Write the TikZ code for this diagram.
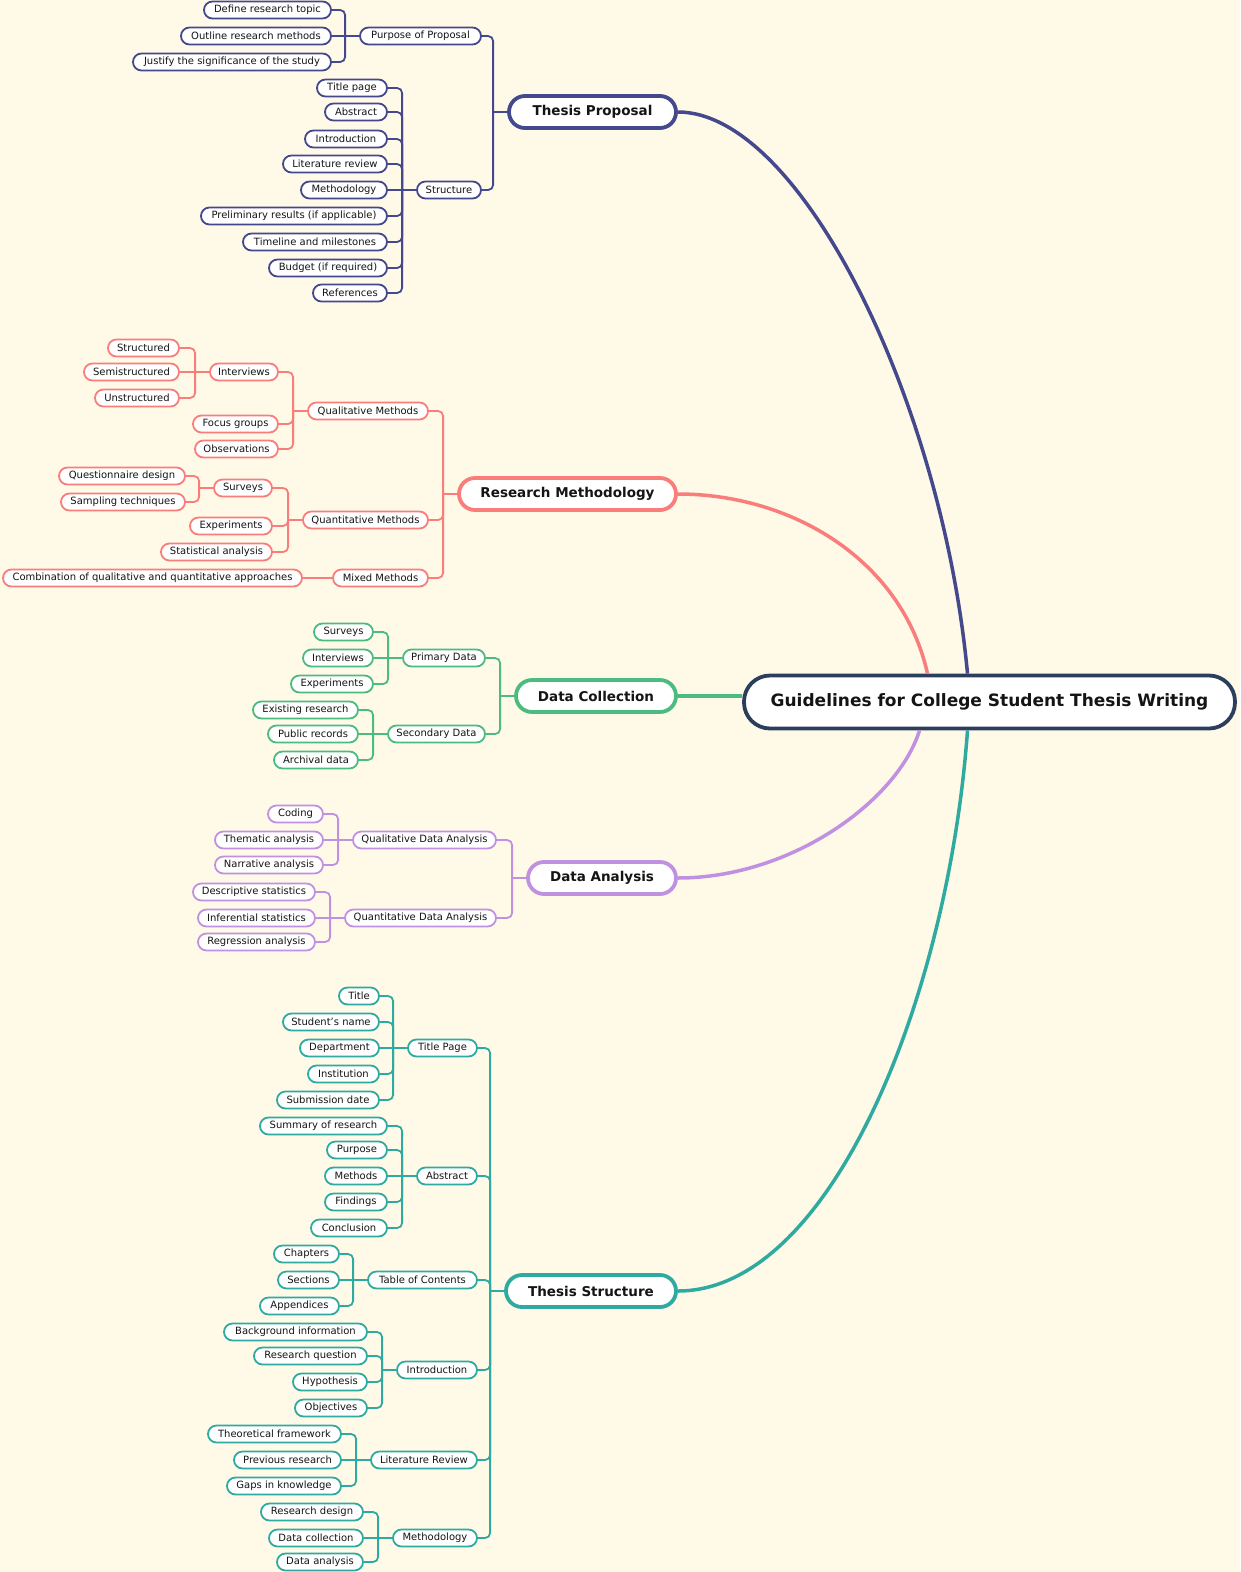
\documentclass[tikz,border=0pt]{standalone}
\usepackage{fontspec}
\setmainfont{DejaVu Sans}
\definecolor{bg}{RGB}{255,249,231}
\definecolor{txt}{RGB}{20,20,20}
\definecolor{tpc}{RGB}{68,72,140}
\definecolor{rmc}{RGB}{248,125,123}
\definecolor{dcc}{RGB}{75,187,127}
\definecolor{dac}{RGB}{192,145,224}
\definecolor{tsc}{RGB}{47,170,160}
\definecolor{rootc}{RGB}{43,63,92}
\tikzset{
  leaf/.style={draw, line width=1.8pt, fill=white, text=txt, rounded corners=8.5pt,
    minimum height=17pt, inner sep=0pt, font=\fontsize{10}{12}\selectfont},
  main/.style={draw, line width=3.8pt, fill=white, text=txt, rounded corners=16pt,
    minimum height=32pt, inner sep=0pt, font=\fontsize{13.5}{16}\selectfont\bfseries},
  rootn/.style={draw=rootc, line width=3.8pt, fill=white, text=txt, rounded corners=26pt,
    minimum height=53pt, inner sep=0pt, font=\fontsize{17}{20}\selectfont\bfseries},
  link/.style={line width=1.8pt, rounded corners=5pt},
  curv/.style={line width=3.5pt},
}
\newcommand\mmnode[6]{%
  \pgfmathsetmacro\mmw{#4-#3-2}%
  \node[#1, minimum width=\mmw pt] (#2) at ({(#3+#4)/2},#5) {#6};}
\newcommand\mmlink[2]{%
  \draw[link] (#1.east) -| ([xshift=-14pt]#2.west);
  \draw[link] ([xshift=-14pt]#2.west) -- (#2.west);}
\newcommand\mmstraight[2]{%
  \draw[line width=1.8pt] (#1.east) -- (#2.west);}
\begin{document}
\begin{tikzpicture}[x=1pt,y=-1pt]
\fill[bg] (0,0) rectangle (1240,1572);
\useasboundingbox (0,0) rectangle (1240,1572);

\node[rootn, minimum width=491pt] (root) at (989.5,702) {Guidelines for College Student Thesis Writing};

% ---------------- Thesis Proposal
\begin{scope}[color=tpc]
\mmnode{main}{tp}{508}{677}{112}{Thesis Proposal}
\mmnode{leaf}{pp}{359}{482}{36}{Purpose of Proposal}
\mmnode{leaf}{pp1}{203}{332}{10}{Define research topic}
\mmnode{leaf}{pp2}{180}{332}{36}{Outline research methods}
\mmnode{leaf}{pp3}{132}{332}{62}{Justify the significance of the study}
\mmnode{leaf}{st}{416}{482}{190}{Structure}
\mmnode{leaf}{st1}{316}{388}{88}{Title page}
\mmnode{leaf}{st2}{324}{388}{112}{Abstract}
\mmnode{leaf}{st3}{304}{388}{139}{Introduction}
\mmnode{leaf}{st4}{282}{388}{164}{Literature review}
\mmnode{leaf}{st5}{300}{388}{190}{Methodology}
\mmnode{leaf}{st6}{200}{388}{216}{Preliminary results (if applicable)}
\mmnode{leaf}{st7}{242}{388}{242}{Timeline and milestones}
\mmnode{leaf}{st8}{268}{388}{268}{Budget (if required)}
\mmnode{leaf}{st9}{312}{388}{293}{References}
\foreach \c in {pp1,pp3} {\mmlink{\c}{pp}}
\mmstraight{pp2}{pp}
\foreach \c in {st1,st2,st3,st4,st6,st7,st8,st9} {\mmlink{\c}{st}}
\mmstraight{st5}{st}
\mmlink{pp}{tp}
\mmlink{st}{tp}
\draw[curv] (tp.east) .. controls (800,112) and (942,400) .. ([xshift=-22pt]root.north);
\end{scope}

% ---------------- Research Methodology
\begin{scope}[color=rmc]
\mmnode{main}{rm}{458}{677}{494}{Research Methodology}
\mmnode{leaf}{qm}{307}{429}{411}{Qualitative Methods}
\mmnode{leaf}{iv}{209}{279}{372}{Interviews}
\mmnode{leaf}{iv1}{107}{180}{348}{Structured}
\mmnode{leaf}{iv2}{83}{180}{372}{Semistructured}
\mmnode{leaf}{iv3}{94}{180}{398}{Unstructured}
\mmnode{leaf}{fg}{192}{279}{424}{Focus groups}
\mmnode{leaf}{ob}{194}{279}{449}{Observations}
\mmnode{leaf}{qn}{302}{429}{520}{Quantitative Methods}
\mmnode{leaf}{sv}{213}{273}{488}{Surveys}
\mmnode{leaf}{sv1}{58}{186}{476}{Questionnaire design}
\mmnode{leaf}{sv2}{60}{186}{502}{Sampling techniques}
\mmnode{leaf}{ex}{189}{273}{526}{Experiments}
\mmnode{leaf}{sa}{160}{273}{552}{Statistical analysis}
\mmnode{leaf}{mm}{332}{429}{578}{Mixed Methods}
\mmnode{leaf}{mm1}{2}{303}{578}{Combination of qualitative and quantitative approaches}
\foreach \c in {iv1,iv3} {\mmlink{\c}{iv}}
\mmstraight{iv2}{iv}
\foreach \c in {iv,fg,ob} {\mmlink{\c}{qm}}
\foreach \c in {sv1,sv2} {\mmlink{\c}{sv}}
\foreach \c in {sv,ex,sa} {\mmlink{\c}{qn}}
\mmstraight{mm1}{mm}
\foreach \c in {qm,qn,mm} {\mmlink{\c}{rm}}
\draw[curv] (rm.east) .. controls (792,494) and (902,560) .. ([xshift=-62pt]root.north);
\end{scope}

% ---------------- Data Collection
\begin{scope}[color=dcc]
\mmnode{main}{dc}{515}{677}{696}{Data Collection}
\mmnode{leaf}{pd}{402}{486}{658}{Primary Data}
\mmnode{leaf}{pd1}{313}{374}{632}{Surveys}
\mmnode{leaf}{pd2}{302}{374}{658}{Interviews}
\mmnode{leaf}{pd3}{290}{374}{684}{Experiments}
\mmnode{leaf}{sd}{387}{486}{734}{Secondary Data}
\mmnode{leaf}{sd1}{252}{359}{710}{Existing research}
\mmnode{leaf}{sd2}{267}{359}{734}{Public records}
\mmnode{leaf}{sd3}{273}{359}{760}{Archival data}
\foreach \c in {pd1,pd3} {\mmlink{\c}{pd}}
\mmstraight{pd2}{pd}
\foreach \c in {sd1,sd3} {\mmlink{\c}{sd}}
\mmstraight{sd2}{sd}
\foreach \c in {pd,sd} {\mmlink{\c}{dc}}
\draw[curv] (dc.east) -- (root.west |- dc.east);
\end{scope}

% ---------------- Data Analysis
\begin{scope}[color=dac]
\mmnode{main}{da}{527}{677}{878}{Data Analysis}
\mmnode{leaf}{qa}{352}{497}{840}{Qualitative Data Analysis}
\mmnode{leaf}{qa1}{267}{324}{814}{Coding}
\mmnode{leaf}{qa2}{214}{324}{840}{Thematic analysis}
\mmnode{leaf}{qa3}{214}{324}{865}{Narrative analysis}
\mmnode{leaf}{na}{344}{497}{918}{Quantitative Data Analysis}
\mmnode{leaf}{na1}{192}{316}{892}{Descriptive statistics}
\mmnode{leaf}{na2}{197}{316}{918}{Inferential statistics}
\mmnode{leaf}{na3}{197}{316}{942}{Regression analysis}
\foreach \c in {qa1,qa3} {\mmlink{\c}{qa}}
\mmstraight{qa2}{qa}
\foreach \c in {na1,na3} {\mmlink{\c}{na}}
\mmstraight{na2}{na}
\foreach \c in {qa,na} {\mmlink{\c}{da}}
\draw[curv] (da.east) .. controls (792,878) and (898,800) .. ([xshift=-70pt]root.south);
\end{scope}

% ---------------- Thesis Structure
\begin{scope}[color=tsc]
\mmnode{main}{ts}{505}{677}{1291}{Thesis Structure}
\mmnode{leaf}{tpg}{407}{478}{1048}{Title Page}
\mmnode{leaf}{tpg1}{338}{380}{996}{Title}
\mmnode{leaf}{tpg2}{282}{380}{1022}{Student's name}
\mmnode{leaf}{tpg3}{299}{380}{1048}{Department}
\mmnode{leaf}{tpg4}{307}{380}{1074}{Institution}
\mmnode{leaf}{tpg5}{276}{380}{1100}{Submission date}
\mmnode{leaf}{ab}{416}{478}{1176}{Abstract}
\mmnode{leaf}{ab1}{259}{388}{1126}{Summary of research}
\mmnode{leaf}{ab2}{326}{388}{1150}{Purpose}
\mmnode{leaf}{ab3}{324}{388}{1176}{Methods}
\mmnode{leaf}{ab4}{324}{388}{1202}{Findings}
\mmnode{leaf}{ab5}{310}{388}{1228}{Conclusion}
\mmnode{leaf}{tc}{367}{478}{1280}{Table of Contents}
\mmnode{leaf}{tc1}{273}{340}{1254}{Chapters}
\mmnode{leaf}{tc2}{277}{340}{1280}{Sections}
\mmnode{leaf}{tc3}{259}{340}{1306}{Appendices}
\mmnode{leaf}{in}{396}{478}{1370}{Introduction}
\mmnode{leaf}{in1}{223}{368}{1332}{Background information}
\mmnode{leaf}{in2}{253}{368}{1356}{Research question}
\mmnode{leaf}{in3}{292}{368}{1382}{Hypothesis}
\mmnode{leaf}{in4}{294}{368}{1408}{Objectives}
\mmnode{leaf}{lr}{370}{478}{1460}{Literature Review}
\mmnode{leaf}{lr1}{207}{342}{1434}{Theoretical framework}
\mmnode{leaf}{lr2}{233}{342}{1460}{Previous research}
\mmnode{leaf}{lr3}{226}{342}{1486}{Gaps in knowledge}
\mmnode{leaf}{me}{392}{478}{1538}{Methodology}
\mmnode{leaf}{me1}{260}{364}{1512}{Research design}
\mmnode{leaf}{me2}{268}{364}{1538}{Data collection}
\mmnode{leaf}{me3}{276}{364}{1562}{Data analysis}
\foreach \c in {tpg1,tpg2,tpg4,tpg5} {\mmlink{\c}{tpg}}
\mmstraight{tpg3}{tpg}
\foreach \c in {ab1,ab2,ab4,ab5} {\mmlink{\c}{ab}}
\mmstraight{ab3}{ab}
\foreach \c in {tc1,tc3} {\mmlink{\c}{tc}}
\mmstraight{tc2}{tc}
\foreach \c in {in1,in2,in3,in4} {\mmlink{\c}{in}}
\foreach \c in {lr1,lr3} {\mmlink{\c}{lr}}
\mmstraight{lr2}{lr}
\foreach \c in {me1,me3} {\mmlink{\c}{me}}
\mmstraight{me2}{me}
\foreach \c in {tpg,ab,tc,in,lr,me} {\mmlink{\c}{ts}}
\draw[curv] (ts.east) .. controls (830,1291) and (948,1000) .. ([xshift=-22pt]root.south);
\end{scope}
\end{tikzpicture}
\end{document}
